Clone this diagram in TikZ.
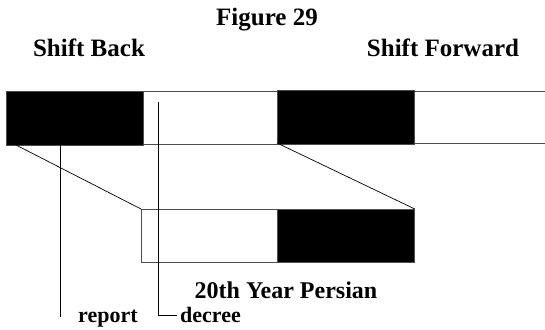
\documentclass[tikz,border=0pt]{standalone}
\usepackage{fontspec}
\setmainfont{Liberation Serif}
\tikzset{
  blk/.style={fill=black,draw=black!70,line width=0.8pt},
  wht/.style={fill=white,draw=black!70,line width=0.8pt},
  ln/.style={draw=black,line width=0.7pt},
  lbl/.style={font=\fontsize{25}{27}\selectfont\bfseries,inner sep=0pt},
  sml/.style={font=\fontsize{24}{26}\selectfont\bfseries,inner sep=0pt},
  tiny/.style={font=\fontsize{22}{24}\selectfont\bfseries,inner sep=0pt}
}
\begin{document}
\begin{tikzpicture}[x=1pt,y=-1pt]
\useasboundingbox (0,0) rectangle (545,329);
% top bar
\path[wht] (143,91) rectangle (277,144);
\draw[black!70,line width=0.8pt] (545,91) -- (414,91) -- (414,143) -- (545,143);
\node[blk,minimum width=137pt,minimum height=54pt,anchor=north west,inner sep=0pt] (b1) at (6,91) {};
\node[blk,minimum width=137pt,minimum height=54pt,anchor=north west,inner sep=0pt] (b2) at (277,90) {};
% bottom bar
\node[wht,minimum width=136pt,minimum height=53pt,anchor=north west,inner sep=0pt] (w3) at (141,209) {};
\node[blk,minimum width=137pt,minimum height=53pt,anchor=north west,inner sep=0pt] (b3) at (277,209) {};
% diagonals
\coordinate (d1) at (16,145);
\coordinate (d2) at (277,143);
\draw[ln] (d1) -- (w3.north west);
\draw[ln] (d2) -- (b3.north east);
% labels
\node[lbl] (fig) at (267,20) {Figure 29};
\node[lbl] (sb) at (89,48) {Shift Back};
\node[lbl] (sf) at (443,48) {Shift Forward};
\node[sml] (yr) at (286,290) {20th Year Persian};
\node[tiny,anchor=base west] (rep) at (78,322) {report};
\node[tiny,anchor=base west] (dec) at (180,322) {decree};
% leader lines
\coordinate (r0) at (60,145);
\coordinate (r1) at (60,317);
\draw[ln] (r0) -- (r1);
\coordinate (c0) at (158,102);
\coordinate (c1) at (177,315);
\draw[ln] (c0) |- (c1);
\end{tikzpicture}
\end{document}
